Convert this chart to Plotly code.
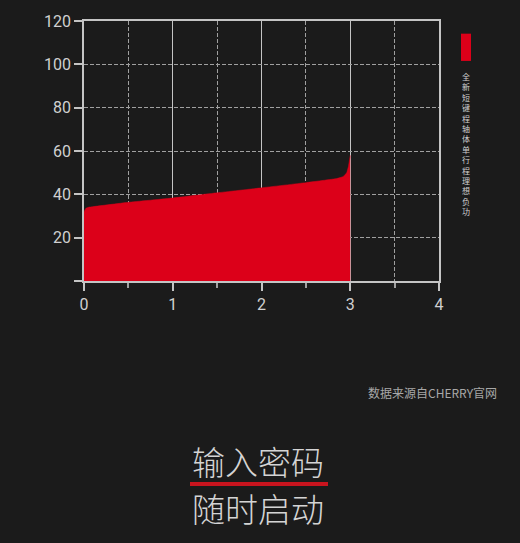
import plotly.graph_objects as go

# Data
travel_mm = [0.0, 0.02, 0.05, 0.5, 1.0, 1.5, 2.0, 2.5, 2.85, 2.92, 2.96, 2.98, 3.0]
force_gf = [32.0, 33.5, 34.0, 36.3, 38.3, 40.7, 43.0, 45.4, 47.3, 48.2, 50.0, 53.0, 58.0]
series_name = "全新短键程轴体单行程理想负功"
x_ticks = [0, 1, 2, 3, 4]
y_ticks = [0, 20, 40, 60, 80, 100, 120]
y_tick_text = ["", "20", "40", "60", "80", "100", "120"]

BG = "#1b1b1b"
RED = "#dc0019"
GRID = "#c4c4c4"
DASH = "#a0a0a0"
TXT = "#d0d0d0"

W, H = 520, 543
L, R, T, B = 84, 81, 14, 262
PW, PH = W - L - R, H - T - B


def px_x(px):
    return (px - L) / PW


def px_y(py):
    return (H - B - py) / PH


fig = go.Figure()
fig.add_trace(go.Scatter(
    x=travel_mm, y=force_gf, mode="lines", fill="tozeroy",
    line=dict(color=RED, width=0.5, shape="spline", smoothing=0.3),
    fillcolor=RED, name=series_name, showlegend=False, hoverinfo="skip",
))

axis_common = dict(
    showline=True, linecolor=GRID, linewidth=1.5, mirror=True,
    ticks="outside", tickcolor=GRID, tickwidth=1.5, ticklen=8,
    tickfont=dict(family="Roboto", size=16, color=TXT),
    zeroline=False,
)

fig.update_xaxes(
    range=[0, 4], tickvals=x_ticks, showgrid=True, gridcolor=GRID, gridwidth=1.3,
    minor=dict(dtick=0.5, showgrid=True, gridcolor=DASH, griddash="4px,2px",
               gridwidth=1, ticks="outside", ticklen=5, tickcolor=DASH),
    **axis_common,
)
fig.update_yaxes(
    range=[0, 120], tickvals=y_ticks, ticktext=y_tick_text,
    showgrid=True, gridcolor=DASH, griddash="4px,2px", gridwidth=1,
    **axis_common,
)

# Legend swatch
fig.add_shape(type="rect", xref="paper", yref="paper",
              x0=px_x(461), x1=px_x(471), y0=px_y(27), y1=px_y(55),
              fillcolor=RED, line=dict(width=0))

# Vertical legend text, upright characters stacked
fig.add_annotation(text="<br>".join(series_name), xref="paper", yref="paper",
                   x=px_x(466.5), y=px_y(63), xanchor="center", yanchor="top",
                   showarrow=False, align="center",
                   font=dict(family="Noto Sans CJK SC", size=8, color=TXT))

fig.add_annotation(text="数据来源自CHERRY官网", xref="paper", yref="paper",
                   x=px_x(499), y=px_y(395), xanchor="right", yanchor="middle",
                   showarrow=False,
                   font=dict(family="Noto Sans CJK SC", size=12, color="#a8a8a8"))

title_font = dict(family="Noto Sans CJK SC Light, Noto Sans CJK SC", size=33,
                  color="#d4d4d4", weight=200)
fig.add_annotation(text="输入密码", xref="paper", yref="paper",
                   x=px_x(190), y=px_y(466), xanchor="left", yanchor="middle",
                   showarrow=False, font=title_font)
fig.add_shape(type="line", xref="paper", yref="paper",
              x0=px_x(190), x1=px_x(328), y0=px_y(489.5), y1=px_y(489.5),
              line=dict(color="#c8141e", width=4))
fig.add_annotation(text="随时启动", xref="paper", yref="paper",
                   x=px_x(190), y=px_y(514), xanchor="left", yanchor="middle",
                   showarrow=False, font=title_font)

fig.update_layout(
    width=W, height=H,
    margin=dict(l=L, r=R, t=T, b=B, pad=0),
    paper_bgcolor=BG, plot_bgcolor=BG,
    showlegend=False,
)

fig.write_html(
    "out.html",
    config={"displayModeBar": False},
    post_script="document.body.style.margin='0';document.body.style.background='#1b1b1b';",
)
